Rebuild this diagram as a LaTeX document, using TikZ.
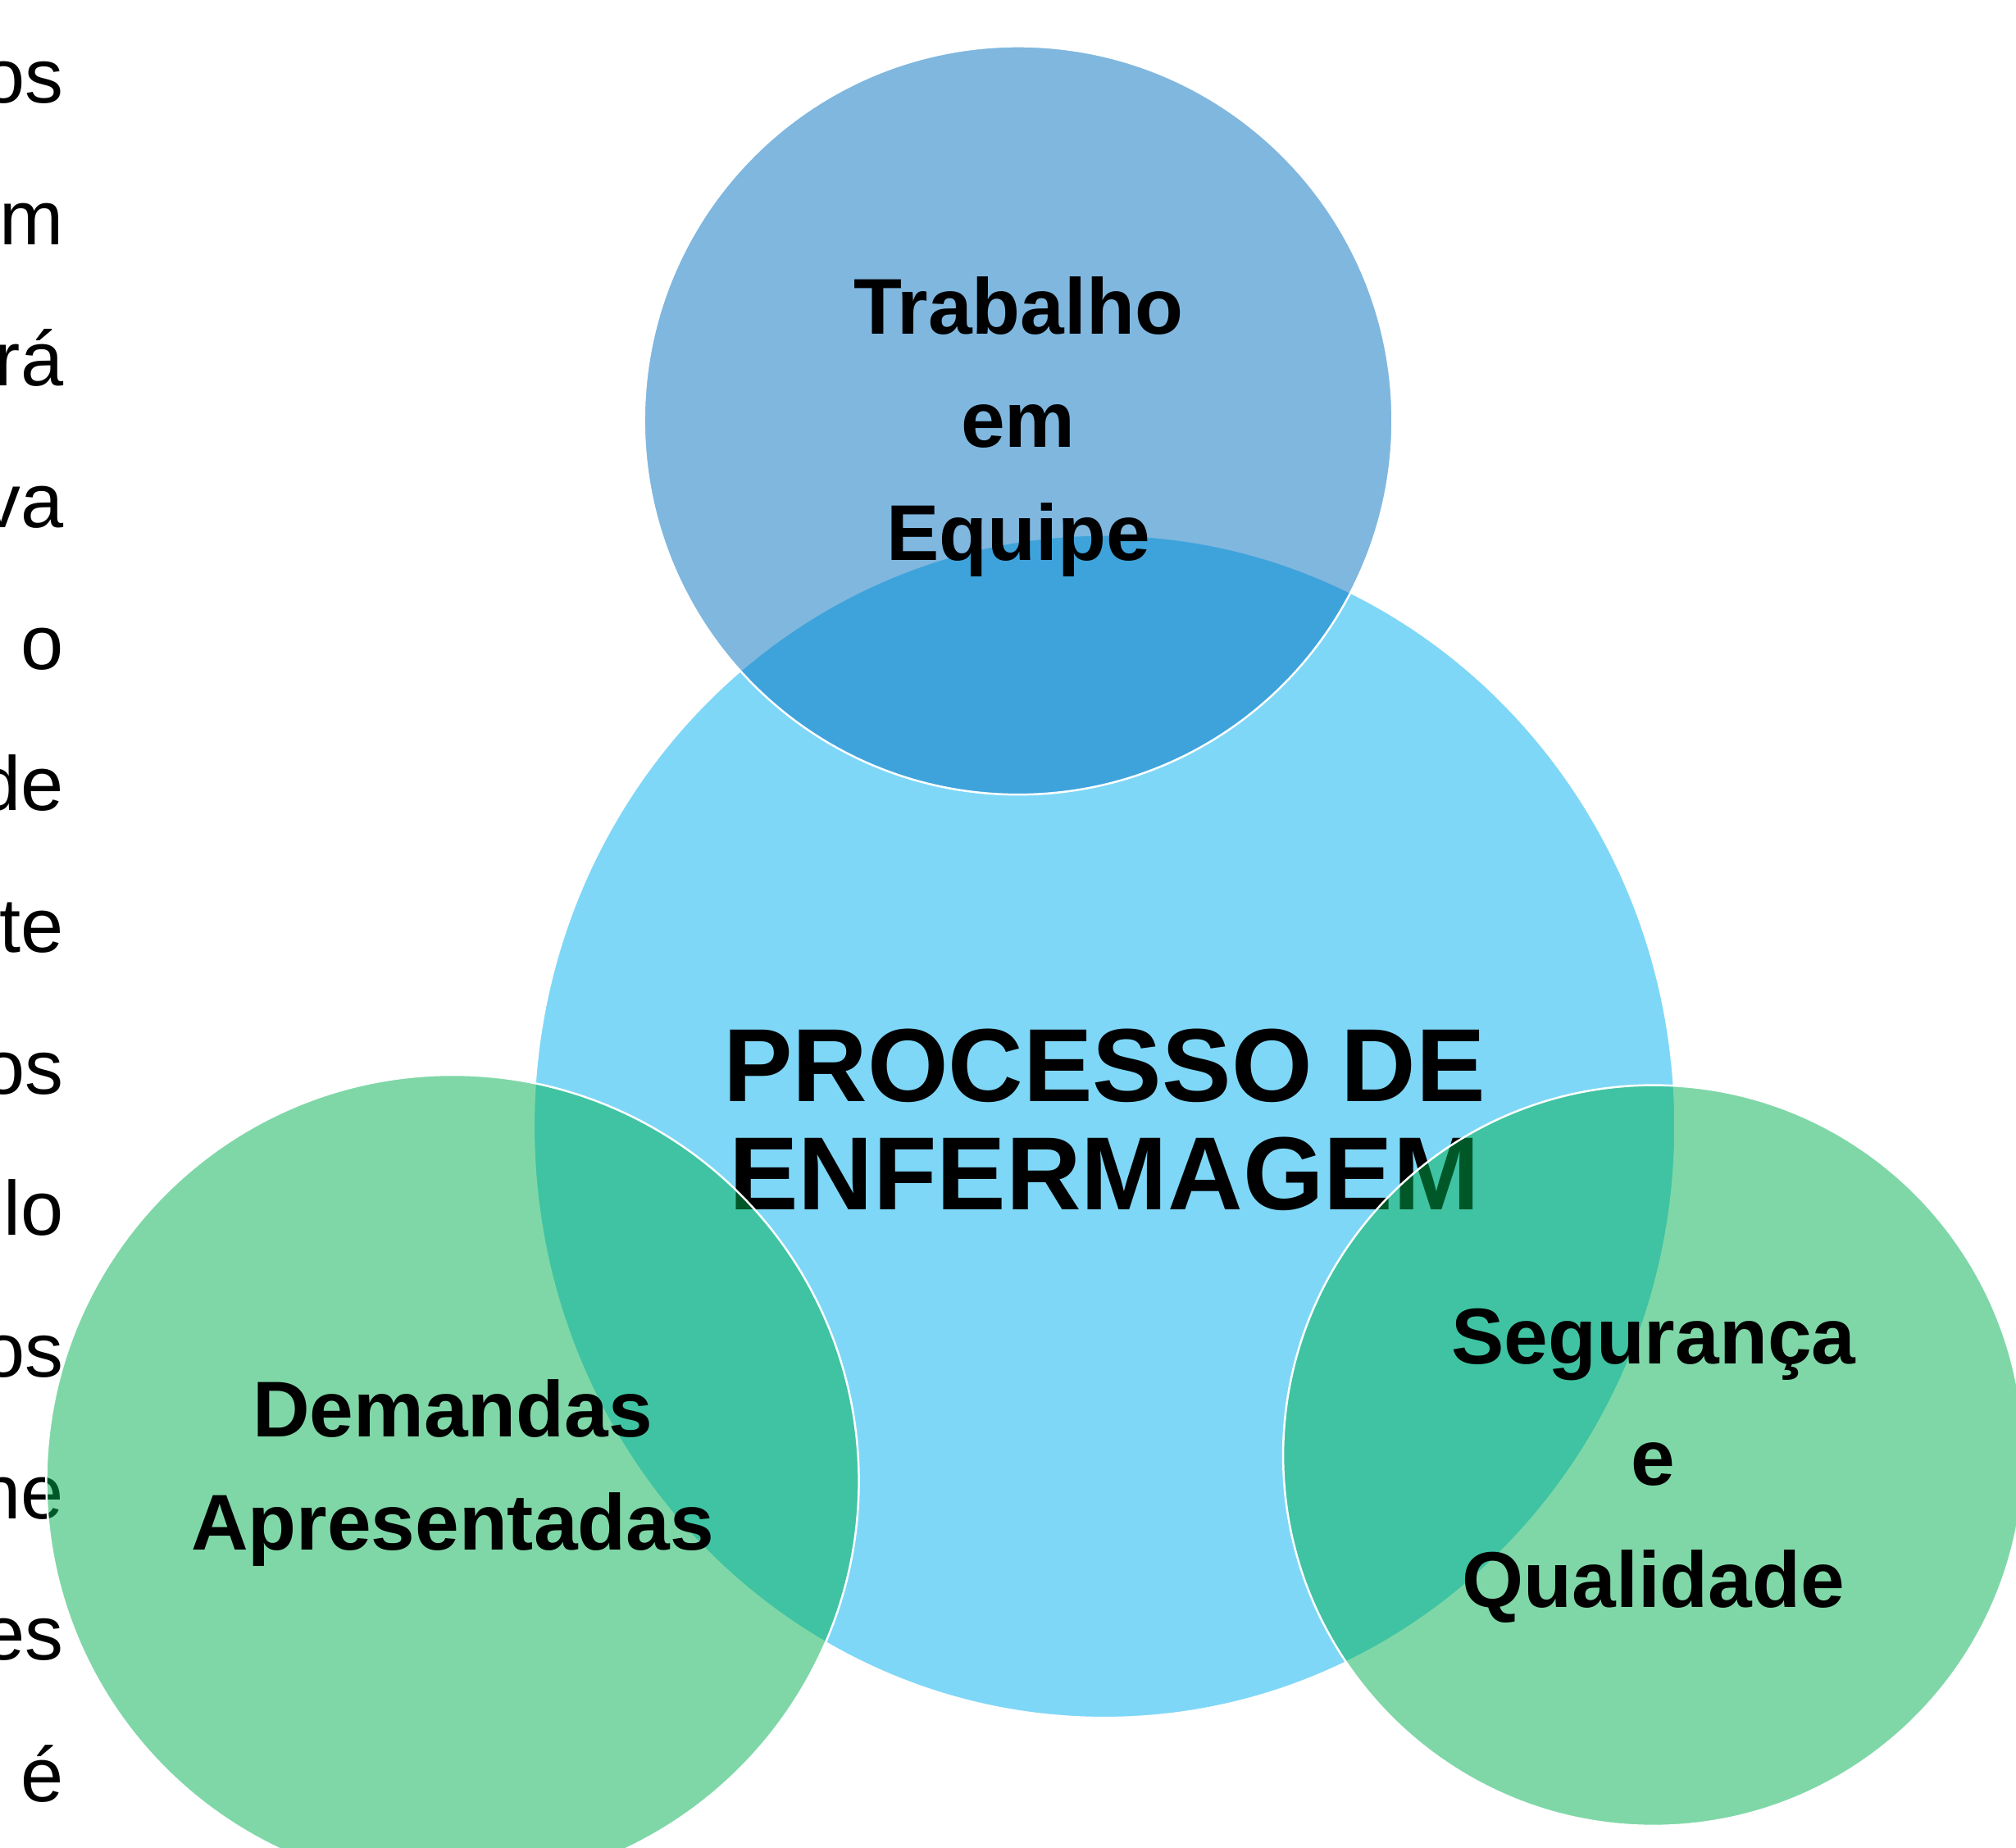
\documentclass[tikz,border=0pt]{standalone}
\usepackage{fontspec}
\setmainfont{Liberation Sans}
\usepackage{xcolor}
\usetikzlibrary{positioning, shapes.geometric}
\definecolor{cenblue}{HTML}{00B0F0}
\definecolor{teamblue}{HTML}{0070C0}
\definecolor{leafgreen}{HTML}{00B050}
\tikzstyle{bubble} = [circle, inner sep=0pt, draw=white, line width=0.45pt, fill opacity=0.5, draw opacity=1]
\tikzstyle{bubbletext} = [align=center, font=\fontsize{17.5}{25}\selectfont\bfseries, text=black]
\tikzstyle{titletext} = [align=center, font=\fontsize{23}{24}\selectfont\bfseries]
\tikzstyle{sidetext} = [anchor=base east, inner sep=0pt, font=\fontsize{17}{20}\selectfont]

\begin{document}
\begin{tikzpicture}[x=0.1mm, y=-0.1mm]
\path[use as bounding box, fill=white] (0,0) rectangle (1568,1437);
% cut-off text of the page on the left
\foreach \frag [count=\i] in {os,m,rá,va,o,de,te,os,elo,os,ne,es,é}
  \node (side\i) [sidetext] at (50,{80+110.1*(\i-1)}) {\frag};
% central circle
\node (proc) [bubble, ellipse, fill=cenblue, minimum width=88.8mm, minimum height=92mm] at (859,876) {};
\node (proctitle) [titletext, yshift=0.5mm] at (proc.center) {PROCESSO DE\\ENFERMAGEM};
% top circle
\node (team) [bubble, fill=teamblue, minimum size=58.2mm] at (792,327) {};
\node (teamtext) [bubbletext, yshift=-0.5mm] at (team.center) {Trabalho\\em\\Equipe};
% green circles
\node (demand) [bubble, fill=leafgreen, minimum size=63.2mm] at (352,1152) {};
\node (safety) [bubble, fill=leafgreen, minimum size=57.6mm] at (1286,1132) {};
\node (demandtext) [bubbletext, yshift=0.65mm] at (demand.center) {Demandas\\Apresentadas};
\node (safetytext) [bubbletext, font=\fontsize{17.5}{27}\selectfont\bfseries, yshift=-0.8mm] at (safety.center) {Segurança\\e\\Qualidade};
\end{tikzpicture}
\end{document}
